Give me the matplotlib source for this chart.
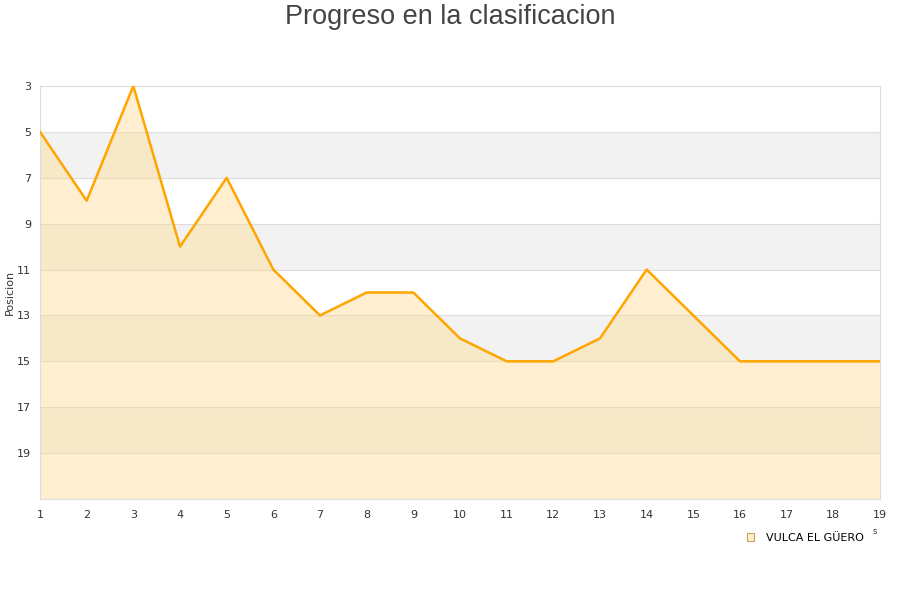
import matplotlib
matplotlib.use('Agg')
import matplotlib.pyplot as plt
from matplotlib.patches import Patch

jornadas = [1, 2, 3, 4, 5, 6, 7, 8, 9, 10, 11, 12, 13, 14, 15, 16, 17, 18, 19]
posicion = [5, 8, 3, 10, 7, 11, 13, 12, 12, 14, 15, 15, 14, 11, 13, 15, 15, 15, 15]
equipo = 'VULCA EL GÜERO'
y_ticks = [3, 5, 7, 9, 11, 13, 15, 17, 19]

fig = plt.figure(figsize=(9, 6), dpi=100)
ax = fig.add_axes([40 / 900, 1 - 499 / 600, 840 / 900, 413 / 600])

# alternating bands
for i, y0 in enumerate(range(3, 21, 2)):
    color = '#f2f2f2' if i % 2 == 1 else 'white'
    ax.axhspan(y0, y0 + 2, color=color, zorder=0, lw=0)
for y in range(5, 21, 2):
    ax.axhline(y, color='#dddddd', lw=0.8, zorder=1)

ax.fill_between(jornadas, posicion, 21, color='#ffd98a', alpha=0.4, lw=0, zorder=2)
ax.plot(jornadas, posicion, color='#ffa500', lw=1.8, zorder=3)

ax.set_xlim(1, 19)
ax.set_ylim(21, 3)
ax.set_xticks(jornadas)
ax.set_yticks(y_ticks)
ax.tick_params(length=0, labelsize=8, labelcolor='#333333', pad=8)
ax.tick_params(axis='y', pad=6.5)
for s in ax.spines.values():
    s.set_color('#dddddd')

ax.set_ylabel('Posicion', fontsize=8, color='#333333')
ax.yaxis.set_label_coords(-25 / 840, 0.5)
fig.text(0.5, 1 - 17 / 600, 'Progreso en la clasificacion', ha='center', va='center',
         fontsize=19.5, color='#444444', family='Liberation Sans')
fig.text(875 / 900, 1 - 532 / 600, 's', ha='center', va='center', fontsize=6, color='#333333')

handle = Patch(facecolor='#ffecc8', edgecolor='#c8a060', lw=0.8)
fig.legend([handle], [equipo], loc='center', bbox_to_anchor=(805 / 900, 1 - 538 / 600),
           frameon=False, fontsize=8, handlelength=0.7, handleheight=0.7, handletextpad=1.0)

fig.savefig('out.png', dpi=100)
